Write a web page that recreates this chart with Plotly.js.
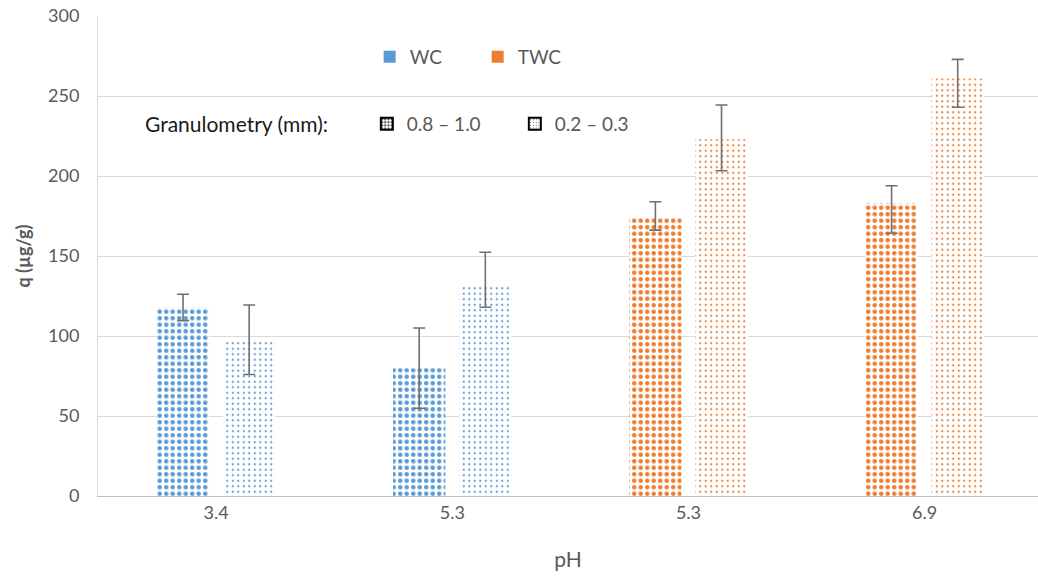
<!DOCTYPE html>
<html>
<head>
<meta charset="utf-8">
<script src="https://cdn.plot.ly/plotly-3.0.1.min.js"></script>
<style>html,body{margin:0;padding:0;background:#fff;}#chart{width:1038px;height:579px;}</style>
</head>
<body>
<div id="chart"></div>
<script>
// ---- data ----
const categories = ["3.4", "5.3 ", "5.3", "6.9"];
const tickLabels = ["3.4", "5.3", "5.3", "6.9"];
const groups = ["WC", "WC", "TWC", "TWC"];
const coarseValues = [117.8, 79.8, 173.9, 183.1];
const coarseErrPlus = [8.3, 25.2, 10.0, 10.8];
const coarseErrMinus = [8.2, 25.0, 7.7, 18.9];
const fineValues = [97.5, 131.9, 222.9, 261.0];
const fineErrPlus = [21.9, 20.4, 21.5, 11.9];
const fineErrMinus = [21.6, 13.9, 19.6, 18.0];
const materialNames = ["WC", "TWC"];
const granulometryNames = ["0.8 – 1.0", "0.2 – 0.3"];
const granulometryTitle = "Granulometry (mm):";

// ---- styles ----
const groupColors = {WC: "#5B9BD5", TWC: "#ED7D31"};
const barColors = groups.map(g => groupColors[g]);
const font = "Lato, 'Open Sans', sans-serif";
const grey = "#595959";
const errStyle = {color: "#707070", thickness: 1.6, width: 6};

const traces = [
  {
    type: "bar", x: categories, y: coarseValues, name: granulometryNames[0], showlegend: false,
    marker: {color: "white", line: {width: 0},
      pattern: {shape: ".", fgcolor: barColors, bgcolor: "white", size: 6.5, solidity: 0.4, fillmode: "replace"}},
    error_y: Object.assign({type: "data", symmetric: false, array: coarseErrPlus, arrayminus: coarseErrMinus, visible: true}, errStyle),
    hoverinfo: "skip"
  },
  {
    type: "bar", x: categories, y: fineValues, name: granulometryNames[1], showlegend: false,
    marker: {color: "white", line: {width: 0},
      pattern: {shape: ".", fgcolor: barColors, bgcolor: "white", size: 5.5, solidity: 0.12, fillmode: "replace"}},
    error_y: Object.assign({type: "data", symmetric: false, array: fineErrPlus, arrayminus: fineErrMinus, visible: true}, errStyle),
    hoverinfo: "skip"
  },
  // legend-only entries on a hidden overlay subplot
  {type: "bar", x: [null], y: [null], xaxis: "x2", yaxis: "y2", name: materialNames[0], legend: "legend",
   marker: {color: groupColors.WC}},
  {type: "bar", x: [null], y: [null], xaxis: "x2", yaxis: "y2", name: materialNames[1], legend: "legend",
   marker: {color: groupColors.TWC}},
  {type: "bar", x: [null], y: [null], xaxis: "x2", yaxis: "y2", name: granulometryNames[0], legend: "legend2",
   marker: {color: "white", line: {color: "black", width: 2},
     pattern: {shape: ".", fgcolor: "#444", bgcolor: "white", size: 4, solidity: 0.4}}},
  {type: "bar", x: [null], y: [null], xaxis: "x2", yaxis: "y2", name: granulometryNames[1], legend: "legend2",
   marker: {color: "white", line: {color: "black", width: 2},
     pattern: {shape: ".", fgcolor: "#444", bgcolor: "white", size: 3.5, solidity: 0.12}}}
];

const layout = {
  width: 1038, height: 579,
  margin: {l: 98, r: 0, t: 16, b: 83},
  paper_bgcolor: "white", plot_bgcolor: "white",
  font: {family: font, color: grey, size: 18},
  barmode: "group", bargap: 0.44, bargroupgap: 0.21,
  xaxis: {
    type: "category", tickvals: categories, ticktext: tickLabels, range: [-0.5, 3.48],
    showgrid: false, showline: true, linecolor: "#bfbfbf", linewidth: 1.3,
    ticks: "", ticklabelstandoff: 0,
    tickfont: {family: font, size: 18, color: grey},
    title: {text: "pH", font: {family: font, size: 21, color: grey}, standoff: 30}
  },
  yaxis: {
    range: [0, 300], tickvals: [0, 50, 100, 150, 200, 250, 300],
    showgrid: true, gridcolor: "#d9d9d9", gridwidth: 1,
    showline: true, linecolor: "#d9d9d9", linewidth: 1,
    zeroline: false, ticks: "", ticklabelstandoff: 14,
    tickfont: {family: font, size: 18, color: grey},
    title: {text: "<b>q (µg/g)</b>", font: {family: font, size: 18, color: grey}, standoff: 12}
  },
  xaxis2: {overlaying: "x", visible: false},
  yaxis2: {overlaying: "y", visible: false},
  legend: {
    orientation: "h", x: 0.289, xanchor: "left", y: 0.915, yanchor: "middle",
    bgcolor: "rgba(0,0,0,0)", font: {family: font, size: 19, color: grey},
    entrywidth: 63, entrywidthmode: "pixels", itemwidth: 30
  },
  legend2: {
    orientation: "h", x: 0.286, xanchor: "left", y: 0.775, yanchor: "middle",
    bgcolor: "rgba(0,0,0,0)", font: {family: font, size: 19, color: grey},
    entrywidth: 103, entrywidthmode: "pixels", itemwidth: 30
  },
  annotations: [{
    text: granulometryTitle, xref: "paper", yref: "paper", x: 0.048, y: 0.775,
    xanchor: "left", yanchor: "middle", showarrow: false,
    font: {family: font, size: 21, color: "#1a1a1a"}
  }]
};

Plotly.newPlot("chart", traces, layout, {displayModeBar: false, staticPlot: true});
</script>
</body>
</html>
